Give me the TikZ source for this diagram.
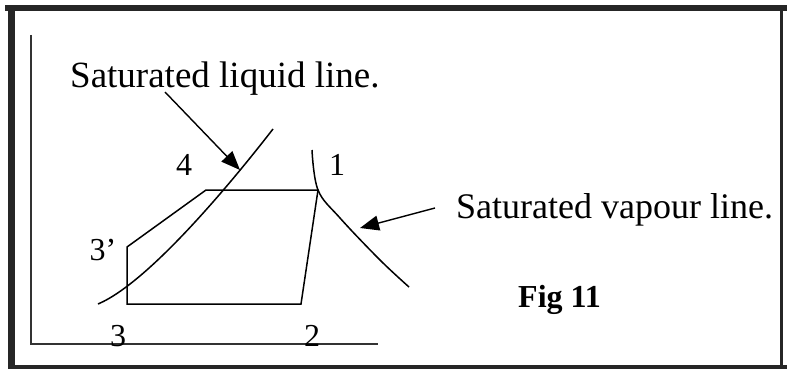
\documentclass[tikz,border=0pt]{standalone}
\usepackage{fontspec}
\setmainfont{Liberation Serif}
\usetikzlibrary{arrows.meta}
\begin{document}
\begin{tikzpicture}[x=1pt,y=-1pt,
  framecol/.style={fill=black!85},
  axisline/.style={draw=black!80,line width=1.8pt},
  cycleline/.style={draw=black,line width=1.5pt,line join=miter},
  satcurve/.style={draw=black,line width=1.5pt},
  pointer/.style={draw=black,line width=1.4pt,-{Triangle[length=19pt,width=15pt]}},
  biglabel/.style={inner sep=0pt,anchor=base west,font=\fontsize{37}{40}\selectfont},
  numlabel/.style={inner sep=0pt,anchor=base,font=\fontsize{32}{34}\selectfont},
  figlabel/.style={inner sep=0pt,anchor=base west,font=\fontsize{32}{34}\selectfont\bfseries}]
\useasboundingbox (0,0) rectangle (787,369);
% frame
\fill[framecol] (5,5) rectangle (787,11);
\fill[framecol] (8,5) rectangle (15,369);
\fill[framecol] (8,365) rectangle (787,369);
\fill[framecol] (780,11) rectangle (783,365);
% axes
\coordinate (ytop) at (31,35);
\coordinate (origin) at (31,344);
\coordinate (xend) at (378,344);
\draw[axisline] (ytop) -- (origin) -- (xend);
% cycle
\coordinate (p1) at (318,190);
\coordinate (p2) at (301,304);
\coordinate (p3) at (127,304);
\coordinate (p3p) at (127,247);
\coordinate (p4) at (206,190);
\draw[cycleline] (p3) -- (p3p) -- (p4) -- (p1) -- (p2) -- cycle;
% saturation curves
\coordinate (liqA) at (98,304);
\coordinate (liqB) at (273,129);
\draw[satcurve] (liqA) .. controls (150,282) and (235,178) .. (liqB);
\draw[satcurve] plot[smooth,tension=0.6] coordinates {(312,150) (318,190) (340,218) (380,260) (409,287)};
% labels
\node[biglabel] (liqlab) at (70,88) {Saturated liquid line.};
\node[biglabel,font=\fontsize{36}{40}\selectfont] (vaplab) at (456,218) {Saturated vapour line.};
\node[figlabel] (fig) at (518,307) {Fig 11};
\node[numlabel] (n4) at (184,175) {4};
\node[numlabel] (n1) at (337,175) {1};
\node[numlabel] (n3p) at (103,260) {3’};
\node[numlabel] (n3) at (118,346) {3};
\node[numlabel] (n2) at (312,346) {2};
% pointers
\coordinate (liqtail) at (165,92);
\coordinate (liqtip) at (240,170);
\coordinate (vaptail) at (435,208);
\coordinate (vaptip) at (360,228);
\draw[pointer] (liqtail) -- (liqtip);
\draw[pointer] (vaptail) -- (vaptip);
\end{tikzpicture}
\end{document}
